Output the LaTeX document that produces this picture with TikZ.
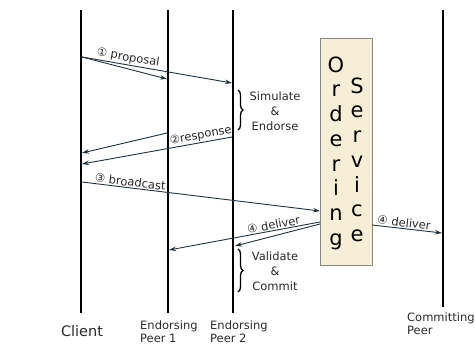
\documentclass[tikz,border=0pt]{standalone}
\usepackage{fontspec}
\setmainfont{DejaVu Sans}
\usetikzlibrary{arrows.meta,decorations.pathreplacing}
\definecolor{msgc}{HTML}{22323E}
\definecolor{txtc}{HTML}{2A2A2A}
\definecolor{boxfill}{HTML}{F6EED6}
\definecolor{boxline}{HTML}{8A8A80}
\begin{document}
\begin{tikzpicture}[x=1pt,y=-1pt,
  life/.style={line width=2.2pt,black},
  msg/.style={draw=msgc,line width=0.9pt,-{Stealth[length=7pt,width=4.5pt]}},
  lbl/.style={font=\fontsize{11.5}{13}\selectfont,text=txtc,inner sep=1pt},
  actor/.style={font=\fontsize{11.5}{13}\selectfont,text=txtc,align=left,inner sep=0pt,anchor=north west},
  bracestyle/.style={decorate,decoration={brace,amplitude=5pt},line width=1.3pt,black},
  bracetext/.style={font=\fontsize{11.5}{15}\selectfont,text=txtc,align=center,inner sep=0pt},
  bigletters/.style={font=\fontsize{21}{24.7}\selectfont,text=black,align=center,inner sep=0pt,anchor=north}]
\useasboundingbox (0,0) rectangle (475,345);

% lifelines
\coordinate (ctop) at (81,10);   \coordinate (cbot) at (81,313);
\coordinate (p1top) at (168,10); \coordinate (p1bot) at (168,313);
\coordinate (p2top) at (233,10); \coordinate (p2bot) at (233,313);
\coordinate (cptop) at (443,10); \coordinate (cpbot) at (443,307);
\draw[life] (ctop) -- (cbot);
\draw[life] (p1top) -- (p1bot);
\draw[life] (p2top) -- (p2bot);
\draw[life] (cptop) -- (cpbot);

% ordering service box
\node[draw=boxline,fill=boxfill,line width=1pt,minimum width=52pt,minimum height=227pt,inner sep=0pt,anchor=north west] (os) at (320,38) {};
\node[bigletters] (ord) at (336,56.5) {O\\r\\d\\e\\r\\i\\n\\g};
\node[bigletters] (serv) at (357,77.5) {S\\e\\r\\v\\i\\c\\e};

% message anchor points
\coordinate (c1) at (82,57);
\coordinate (p1a) at (167,79);
\coordinate (p2a) at (232,83);
\coordinate (p1b) at (167,133);
\coordinate (p2b) at (232,137);
\coordinate (c2a) at (82,153);
\coordinate (c2b) at (82,164);
\coordinate (c3) at (82,182);
\coordinate (os3) at (320,211);
\coordinate (os4) at (320,222);
\coordinate (os4b) at (320,224);
\coordinate (p1d) at (169,250);
\coordinate (p2d) at (235,246);
\coordinate (os5) at (372,225);
\coordinate (cpd) at (442,233);

% messages
\draw[msg] (c1) -- (p1a);
\draw[msg] (c1) -- node[lbl,sloped,above,pos=0.3] {① proposal} (p2a);
\draw[msg] (p1b) -- (c2a);
\draw[msg] (p2b) -- node[lbl,sloped,above,pos=0.2] {②response} (c2b);
\draw[msg] (c3) -- node[lbl,sloped,above,pos=0.2] {③ broadcast} (os3);
\draw[msg] (os4) -- node[lbl,sloped,above,pos=0.3] {④ deliver} (p1d);
\draw[msg] (os4b) -- (p2d);
\draw[msg] (os5) -- node[lbl,sloped,above,pos=0.45] {④ deliver} (cpd);

% braces
\coordinate (b1t) at (238,90); \coordinate (b1b) at (238,130);
\coordinate (b2t) at (238,249); \coordinate (b2b) at (238,292);
\draw[bracestyle] (b1t) -- (b1b);
\draw[bracestyle] (b2t) -- (b2b);
\node[bracetext] (se) at (275,111) {Simulate\\\&\\Endorse};
\node[bracetext] (vc) at (275,271) {Validate\\\&\\Commit};

% actor labels
\node[font=\fontsize{14.5}{16}\selectfont,text=txtc,inner sep=0pt] (client) at (82,331) {Client};
\node[actor] (ep1) at (140,321) {Endorsing\\Peer 1};
\node[actor] (ep2) at (210,321) {Endorsing\\Peer 2};
\node[actor] (cp) at (407,313) {Committing\\Peer};
\end{tikzpicture}
\end{document}
